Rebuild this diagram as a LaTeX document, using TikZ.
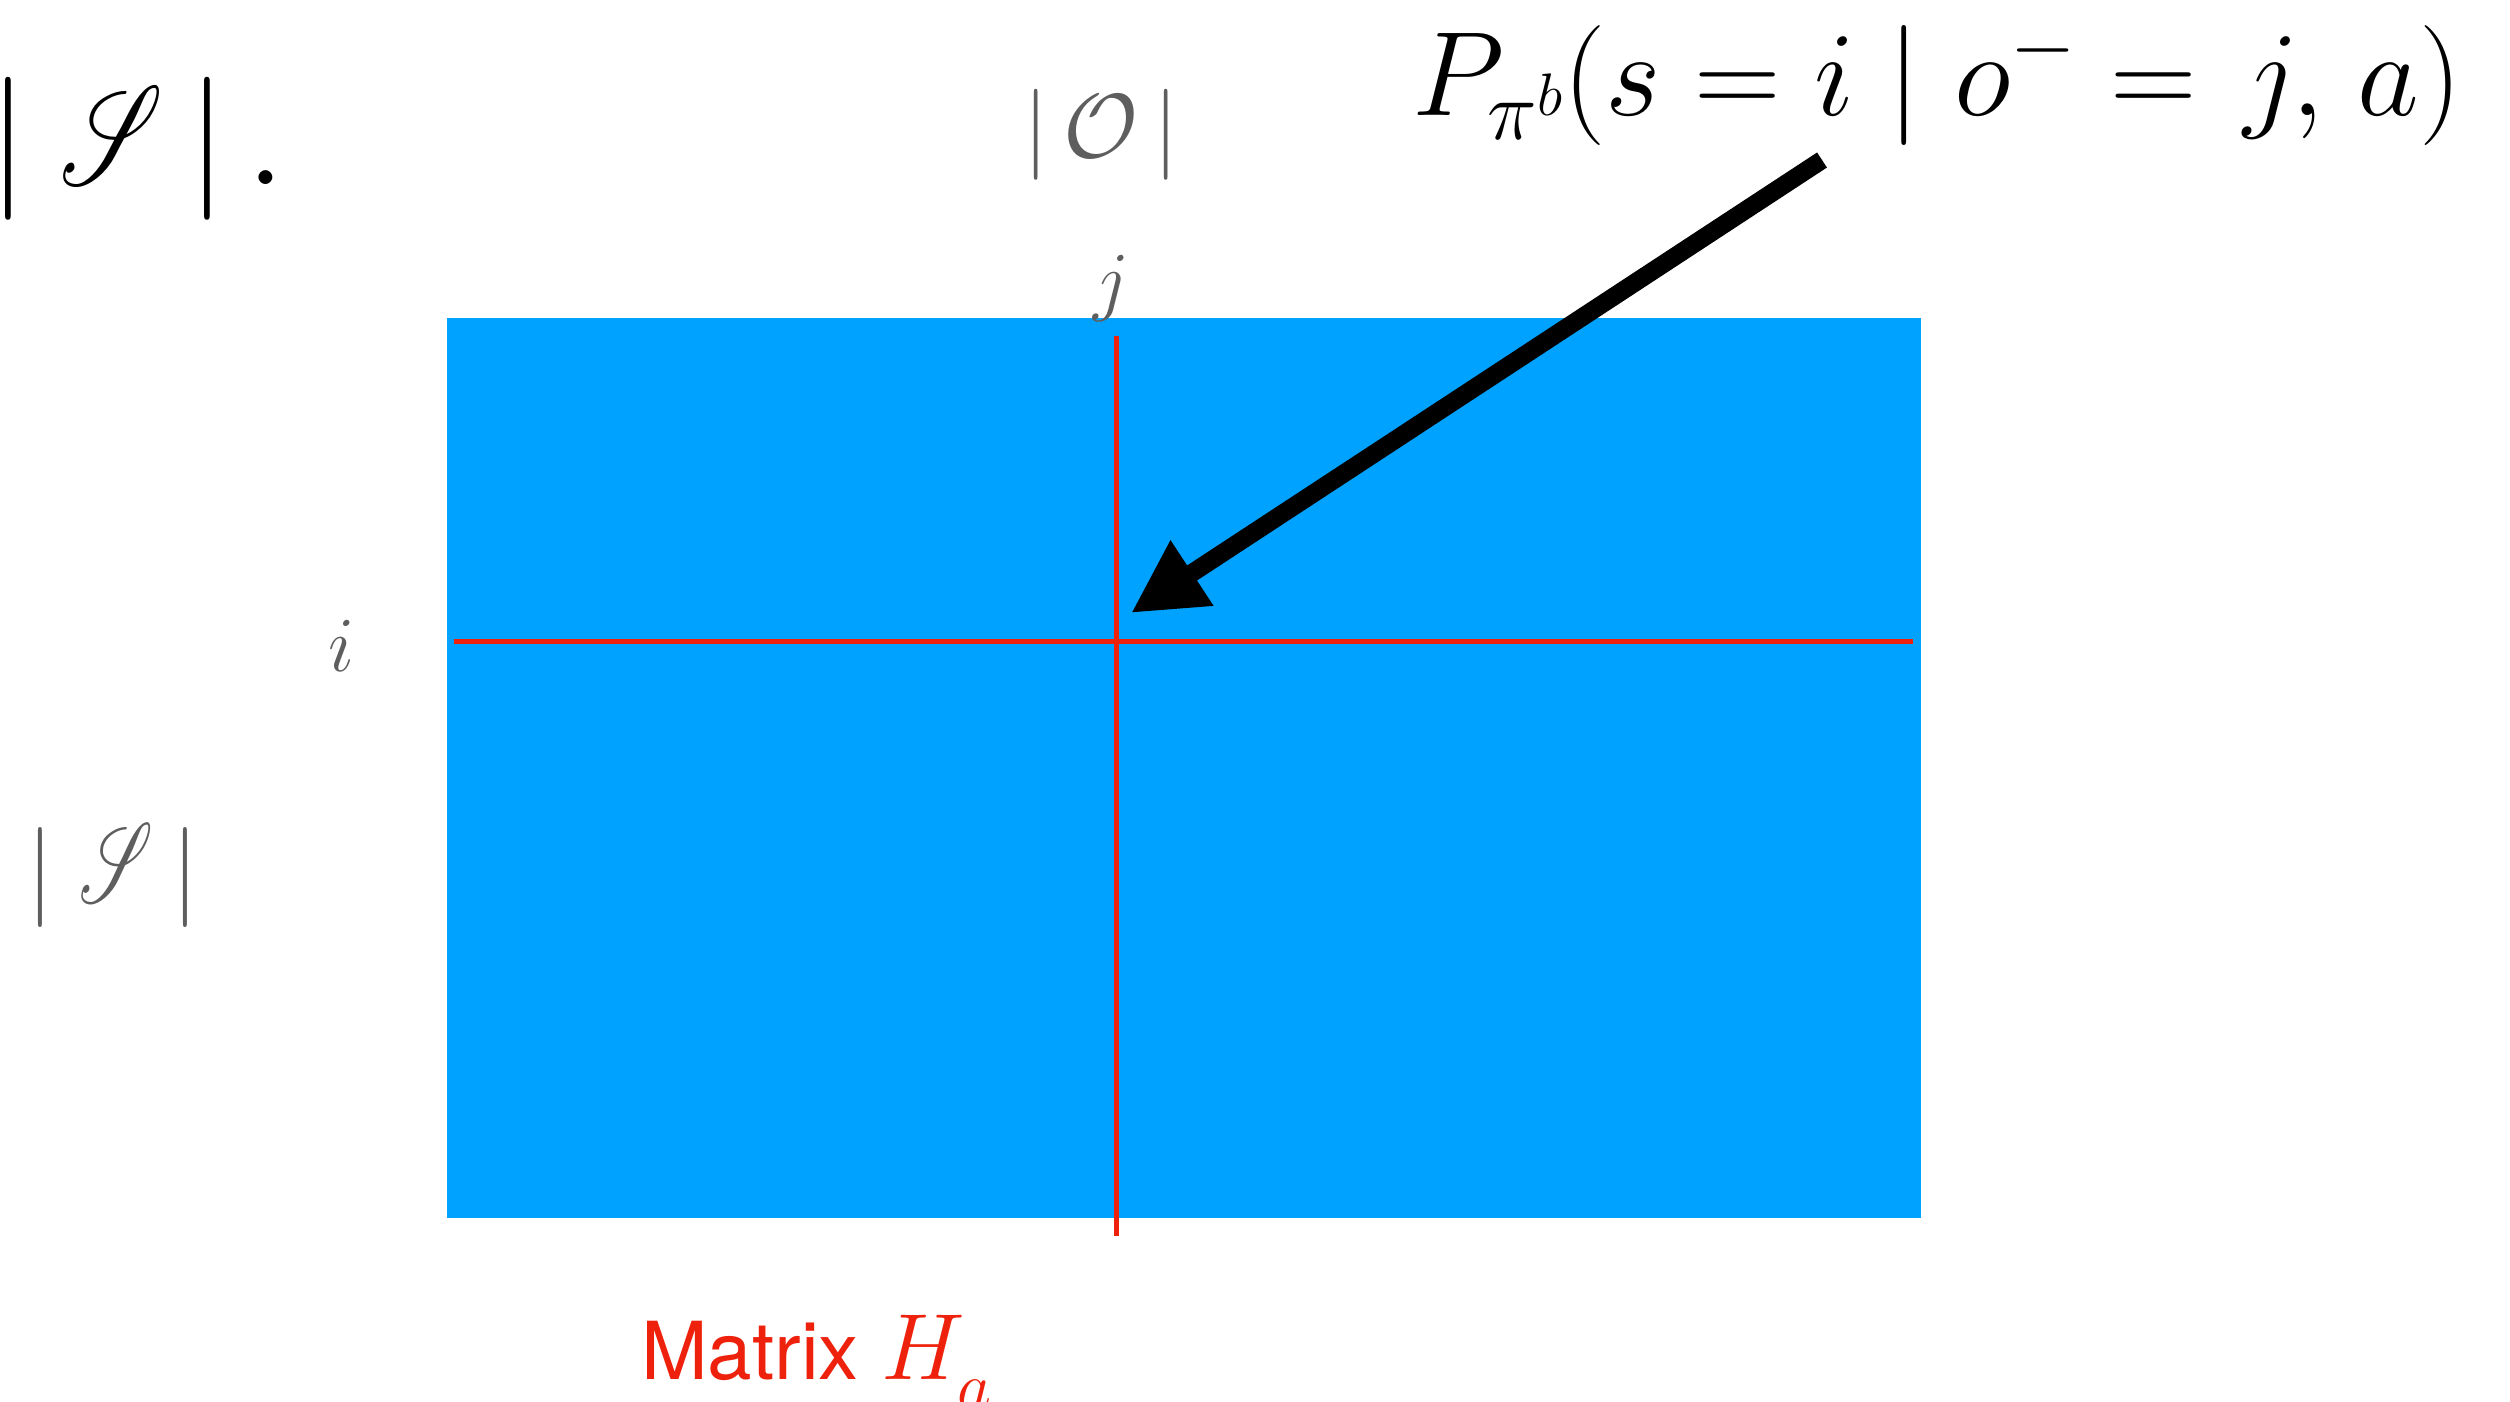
\RequirePackage{fix-cm}
\documentclass[tikz,border=0pt]{standalone}
\usepackage{mathrsfs}
\usepackage{fontspec}
\newfontfamily\helv{TeX Gyre Heros}
\usetikzlibrary{arrows.meta}
\definecolor{kblue}{HTML}{00A2FF}
\definecolor{kred}{HTML}{EE220C}
\definecolor{kgray}{HTML}{5E5E5E}
\newcommand{\bigS}[2]{\resizebox*{#1}{#2}{\fontsize{20.74}{20.74}\selectfont$\mathscr{S}$}}
\tikzset{
  txt/.style={inner sep=0pt, outer sep=0pt},
  redline/.style={draw=kred, line width=5pt},
  bigarrow/.style={draw=black, line width=18pt, -{Triangle[length=73pt,width=73pt]}},
}
\begin{document}
\begin{tikzpicture}[x=1pt, y=-1pt]
\useasboundingbox (0,0) rectangle (2510,1401);
% matrix block
\node[fill=kblue, inner sep=0, minimum width=1474pt, minimum height=900pt] (mat) at (1184,767.5) {};
% red cross lines
\coordinate (vt) at (1116,336);
\coordinate (vb) at (1116,1236);
\coordinate (hl) at (454,641);
\coordinate (hr) at (1913,641);
\draw[redline] (vt) -- (vb);
\draw[redline] (hl) -- (hr);
% texts
\node[txt, anchor=base west] (tl) at (-11,184) {\fontsize{143}{143}\selectfont $|\mkern4mu\mbox{\bigS{103pt}{98pt}}\mkern3mu|\mkern2.5mu.$};
\node[txt, anchor=base, text=kgray] (O) at (1101,157) {\fontsize{91}{91}\selectfont $|\,\mathcal{O}\,|$};
\node[txt, anchor=base, text=kgray] (j) at (1111,306) {\fontsize{78}{78}\selectfont $j$};
\node[txt, anchor=base, text=kgray] (i) at (342,671) {\fontsize{78}{78}\selectfont $i$};
\node[txt, anchor=base west, text=kgray] (S) at (27,902) {\fontsize{100}{100}\selectfont $|\mkern4.5mu\mbox{\bigS{74pt}{79pt}}\mkern3.2mu|$};
\node[txt, anchor=base west] (f) at (1412,115) {\fontsize{120}{120}\selectfont $P_{\pi^b}(s = i \mid o^- = \mkern2mu j,\mkern2mu a)$};
\node[txt, anchor=base west, text=kred] (lab) at (641,1379) {\fontsize{80}{80}\selectfont\helv Matrix {\fontsize{94}{94}\selectfont$H_{\raisebox{-15pt}{$\scriptstyle a$}}$}};
% arrow
\coordinate (as) at (1822,160);
\coordinate (at) at (1131,613);
\draw[bigarrow] (as) -- (at);
\end{tikzpicture}
\end{document}
